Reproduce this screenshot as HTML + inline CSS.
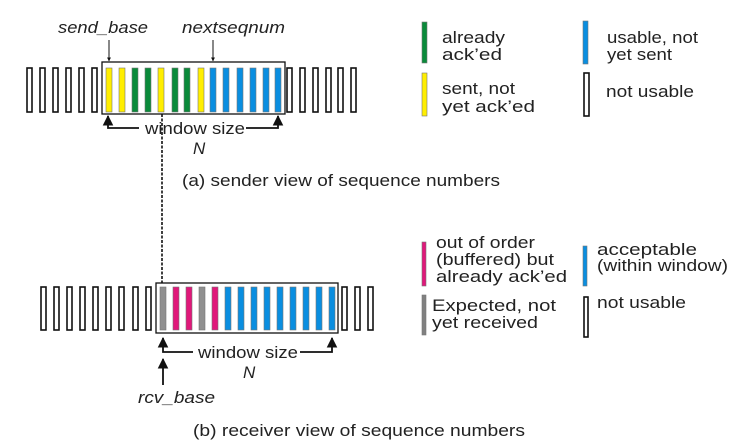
<!DOCTYPE html>
<html><head><meta charset="utf-8"><style>
html,body{margin:0;padding:0;background:#fff;width:735px;height:447px;overflow:hidden}
svg{display:block}
text{font-family:"Liberation Sans",sans-serif;fill:#222}
</style></head><body>
<svg width="735" height="447" viewBox="0 0 735 447" xmlns="http://www.w3.org/2000/svg">
<defs>
<marker id="ah" viewBox="0 0 10 10" refX="9" refY="5" markerWidth="6" markerHeight="6" orient="auto"><path d="M0,0 L10,5 L0,10 z" fill="#111"/></marker>
<marker id="ahs" viewBox="0 0 10 10" refX="9" refY="5" markerWidth="4" markerHeight="4" orient="auto"><path d="M0,0 L10,5 L0,10 z" fill="#111"/></marker>
</defs>
<g fill="none" stroke="#111" stroke-width="1.6">
<rect x="27" y="68" width="5" height="44"/><rect x="40" y="68" width="5" height="44"/><rect x="53" y="68" width="5" height="44"/><rect x="66" y="68" width="5" height="44"/><rect x="79" y="68" width="5" height="44"/><rect x="92" y="68" width="5" height="44"/>
<rect x="287" y="68" width="5" height="44"/><rect x="300" y="68" width="5" height="44"/><rect x="313" y="68" width="5" height="44"/><rect x="326" y="68" width="5" height="44"/><rect x="338" y="68" width="5" height="44"/><rect x="351" y="68" width="5" height="44"/>
<rect x="102" y="62" width="183" height="52" stroke-width="1.3"/>
<rect x="41" y="287" width="5" height="43"/><rect x="54" y="287" width="5" height="43"/><rect x="67" y="287" width="5" height="43"/><rect x="80" y="287" width="5" height="43"/><rect x="93" y="287" width="5" height="43"/><rect x="106" y="287" width="5" height="43"/><rect x="119" y="287" width="5" height="43"/><rect x="133" y="287" width="5" height="43"/><rect x="146" y="287" width="5" height="43"/>
<rect x="342" y="287" width="5" height="43"/><rect x="355" y="287" width="5" height="43"/><rect x="368" y="287" width="5" height="43"/>
<rect x="156" y="283" width="182" height="50" stroke-width="1.3"/>
<rect x="584" y="73" width="5" height="43"/>
<rect x="584" y="297" width="4" height="40"/>
</g>
<g stroke="#777" stroke-width="0.6">
<rect x="106" y="68" width="6" height="44" fill="#ffee00"/>
<rect x="119" y="68" width="6" height="44" fill="#ffee00"/>
<rect x="132" y="68" width="6" height="44" fill="#0a8a3a"/>
<rect x="145" y="68" width="6" height="44" fill="#0a8a3a"/>
<rect x="158" y="68" width="6" height="44" fill="#ffee00"/>
<rect x="172" y="68" width="6" height="44" fill="#0a8a3a"/>
<rect x="184" y="68" width="6" height="44" fill="#0a8a3a"/>
<rect x="198" y="68" width="6" height="44" fill="#ffee00"/>
<rect x="210" y="68" width="6" height="44" fill="#0a8ee0"/>
<rect x="223" y="68" width="6" height="44" fill="#0a8ee0"/>
<rect x="237" y="68" width="6" height="44" fill="#0a8ee0"/>
<rect x="250" y="68" width="6" height="44" fill="#0a8ee0"/>
<rect x="263" y="68" width="6" height="44" fill="#0a8ee0"/>
<rect x="275" y="68" width="6" height="44" fill="#0a8ee0"/>
<rect x="160" y="287" width="6" height="43" fill="#909090"/>
<rect x="173" y="287" width="6" height="43" fill="#e0187a"/>
<rect x="186" y="287" width="6" height="43" fill="#e0187a"/>
<rect x="199" y="287" width="6" height="43" fill="#909090"/>
<rect x="212" y="287" width="6" height="43" fill="#e0187a"/>
<rect x="225" y="287" width="6" height="43" fill="#0a8ee0"/>
<rect x="238" y="287" width="6" height="43" fill="#0a8ee0"/>
<rect x="251" y="287" width="6" height="43" fill="#0a8ee0"/>
<rect x="264" y="287" width="6" height="43" fill="#0a8ee0"/>
<rect x="277" y="287" width="6" height="43" fill="#0a8ee0"/>
<rect x="290" y="287" width="6" height="43" fill="#0a8ee0"/>
<rect x="303" y="287" width="6" height="43" fill="#0a8ee0"/>
<rect x="316" y="287" width="6" height="43" fill="#0a8ee0"/>
<rect x="329" y="287" width="6" height="43" fill="#0a8ee0"/>
<rect x="422" y="22" width="5" height="41" fill="#0a8a3a"/>
<rect x="583" y="21" width="5" height="43" fill="#0a8ee0"/>
<rect x="422" y="73" width="5" height="43" fill="#ffee00"/>
<rect x="422" y="242" width="4" height="44" fill="#e0187a"/>
<rect x="583" y="246" width="4" height="40" fill="#0a8ee0"/>
<rect x="422" y="295" width="4" height="40" fill="#808080"/>
</g>
<g stroke="#111" fill="none">
<line x1="109" y1="40" x2="109" y2="61" stroke-width="1" marker-end="url(#ahs)"/>
<line x1="213" y1="40" x2="213" y2="61" stroke-width="1" marker-end="url(#ahs)"/>
<polyline points="139,128 108,128 108,116" stroke-width="1.8" marker-end="url(#ah)"/>
<polyline points="246,128 278,128 278,116" stroke-width="1.8" marker-end="url(#ah)"/>
<line x1="162" y1="114" x2="162" y2="283" stroke-width="1.6" stroke-dasharray="3,1.5"/>
<polyline points="193,352 163,352 163,338" stroke-width="1.8" marker-end="url(#ah)"/>
<polyline points="300,352 332,352 332,338" stroke-width="1.8" marker-end="url(#ah)"/>
<line x1="163" y1="385" x2="163" y2="359" stroke-width="1.8" marker-end="url(#ah)"/>
</g>
<g font-size="17">
<text x="58" y="33" font-style="italic" textLength="90" lengthAdjust="spacingAndGlyphs">send_base</text>
<text x="182" y="33" font-style="italic" textLength="103" lengthAdjust="spacingAndGlyphs">nextseqnum</text>
<text x="145" y="134" textLength="100" lengthAdjust="spacingAndGlyphs">window size</text>
<text x="193" y="154" font-style="italic">N</text>
<text x="182" y="186" textLength="318" lengthAdjust="spacingAndGlyphs">(a) sender view of sequence numbers</text>
<text x="198" y="358" textLength="100" lengthAdjust="spacingAndGlyphs">window size</text>
<text x="243" y="378" font-style="italic">N</text>
<text x="138" y="403" font-style="italic" textLength="77" lengthAdjust="spacingAndGlyphs">rcv_base</text>
<text x="193" y="436" textLength="332" lengthAdjust="spacingAndGlyphs">(b) receiver view of sequence numbers</text>
<text x="442" y="43" textLength="63" lengthAdjust="spacingAndGlyphs">already</text>
<text x="442" y="60" textLength="60" lengthAdjust="spacingAndGlyphs">ack’ed</text>
<text x="607" y="43" textLength="91" lengthAdjust="spacingAndGlyphs">usable, not</text>
<text x="607" y="60" textLength="65" lengthAdjust="spacingAndGlyphs">yet sent</text>
<text x="442" y="94" textLength="73" lengthAdjust="spacingAndGlyphs">sent, not</text>
<text x="442" y="112" textLength="93" lengthAdjust="spacingAndGlyphs">yet ack’ed</text>
<text x="606" y="97" textLength="88" lengthAdjust="spacingAndGlyphs">not usable</text>
<text x="436" y="248" textLength="99" lengthAdjust="spacingAndGlyphs">out of order</text>
<text x="436" y="265" textLength="118" lengthAdjust="spacingAndGlyphs">(buffered) but</text>
<text x="436" y="282" textLength="131" lengthAdjust="spacingAndGlyphs">already ack’ed</text>
<text x="597" y="255" textLength="100" lengthAdjust="spacingAndGlyphs">acceptable</text>
<text x="597" y="271" textLength="131" lengthAdjust="spacingAndGlyphs">(within window)</text>
<text x="432" y="311" textLength="124" lengthAdjust="spacingAndGlyphs">Expected, not</text>
<text x="432" y="328" textLength="106" lengthAdjust="spacingAndGlyphs">yet received</text>
<text x="597" y="308" textLength="89" lengthAdjust="spacingAndGlyphs">not usable</text>
</g>
</svg>
</body></html>
